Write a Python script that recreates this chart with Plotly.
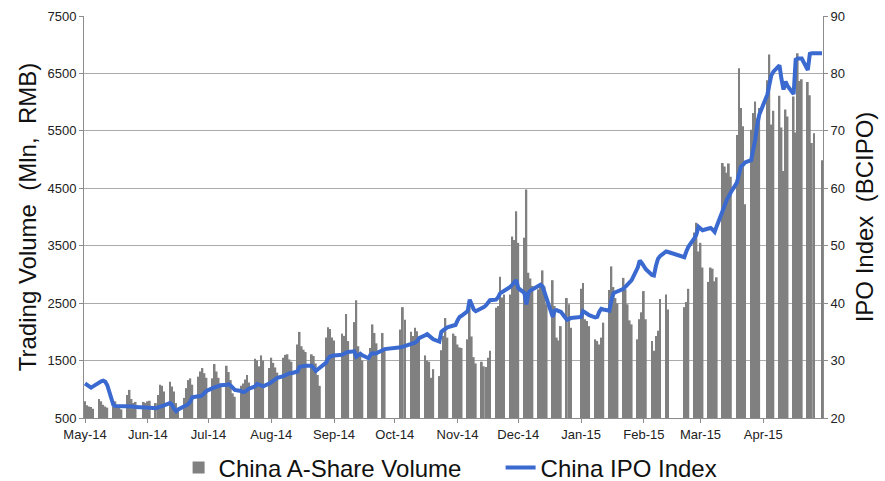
import pandas as pd
import plotly.graph_objects as go

# Exchange holidays (weekdays) inside the plotted period
holidays = [
    "2014-06-02", "2014-09-08",
    "2014-10-01", "2014-10-02", "2014-10-03", "2014-10-06", "2014-10-07",
    "2015-01-01", "2015-01-02",
    "2015-02-18", "2015-02-19", "2015-02-20", "2015-02-23", "2015-02-24",
    "2015-04-06", "2015-05-01",
]
first_day, last_day = "2014-05-05", "2015-05-04"

# Daily A-share turnover (Mln RMB), one row per trading week
volume = [
    790, 720, 700, 690, 660,
    830, 790, 730, 700, 680,
    700, 790, 720, 690, 650,
    900, 990, 830, 760, 780,
    780, 760, 790, 800,
    760, 900, 1080, 1060, 960,
    1130, 1050, 960, 760, 650,
    850, 1020, 1160, 1190, 1080,
    1220, 1310, 1370, 1280, 1200,
    1190, 1440, 1310, 1200, 1100,
    1410, 1300, 1160, 930, 870,
    1060, 1100, 1170, 1250, 1120,
    1530, 1500, 1400, 1590, 1500,
    1370, 1550, 1460, 1380, 1290,
    1550, 1600, 1610, 1520, 1480,
    1780, 2000, 1750, 1690, 1650,
    1610, 1580, 1450, 1250, 1060,
    1900, 2080, 2050, 1900, 1850,
    1970, 1930, 2310, 1840,
    2170, 2550, 1750, 1620, 1500,
    1500, 1720, 2130, 1980, 1800,
    1980, 1720,
    2040, 2430, 2210,
    2000, 1930, 2070, 2010, 1900,
    1590, 1500, 1480, 1200, 1350,
    1230, 1680, 1930, 2240, 1900,
    1970, 1930, 1780, 1730, 1720,
    1870, 2420, 1920, 1560, 1450,
    1480, 1400, 1390, 1550, 1670,
    2420, 2450, 2960, 2600, 2650,
    2650, 3660, 3600, 4100, 3550,
    3640, 4480, 3030, 2930, 2800,
    2740, 2820, 3070, 2790, 2480,
    2900, 2450, 1900, 1850, 2100,
    2590, 2480, 2070,
    2750, 2850, 2220, 2190, 2100,
    1870, 1840, 1780, 1900, 2160,
    2730, 3140, 2780, 2590, 2500,
    2940, 2740, 2480, 2200, 2130,
    1870, 2220, 2340, 2710, 2220,
    1840, 1670, 1930, 2020, 2570,
    2650, 2390,
    2430, 2520, 2750,
    3730, 3900, 3400, 3550, 3120,
    2870, 3120, 3100, 2880, 2950,
    4940, 4880, 4770, 4930, 4700,
    5430, 6590, 5900, 5580, 4220,
    5520, 5810, 6010, 5720, 5900,
    6380, 6830, 5610, 5850,
    6110, 5560, 4800, 5870, 5750,
    6100, 5470, 6850, 6370, 6400,
    6350, 6120, 5290, 5460,
    4990,
]

# China IPO Index (BCIPO) closing level, same trading days
ipo_index = [
    26.0, 25.8, 25.6, 25.3, 25.5,
    26.3, 26.4, 26.5, 26.3, 25.7,
    22.3, 22.1, 22.1, 22.1, 22.1,
    22.1, 22.0, 22.1, 22.0, 21.9,
    21.9, 21.9, 21.8, 21.8,
    21.7, 21.8, 21.9, 22.0, 22.2,
    22.6, 22.3, 21.6, 21.2, 21.5,
    22.1, 22.3, 22.4, 22.9, 23.6,
    23.8, 23.8, 24.0, 24.3, 24.7,
    25.2, 25.3, 25.4, 25.6, 25.7,
    25.8, 25.9, 25.6, 25.2, 24.9,
    24.7, 24.5, 24.6, 24.9, 25.1,
    25.5, 25.9, 25.8, 25.6, 25.5,
    26.0, 26.3, 26.6, 26.8, 27.0,
    27.3, 27.5, 27.7, 27.8, 27.8,
    28.1, 28.9, 29.0, 29.0, 29.1,
    29.1, 28.5, 28.2, 28.5, 28.8,
    29.6, 30.3, 30.7, 30.8, 30.9,
    31.0, 31.3, 31.4, 31.5,
    31.6, 30.7, 31.0, 31.2, 30.9,
    30.4, 31.0, 31.3, 31.2, 31.3,
    31.8, 32.0,
    32.3, 32.4, 32.5,
    32.8, 33.0, 33.1, 33.4, 33.9,
    34.4, 34.6, 34.3, 33.9, 33.7,
    33.3, 35.0, 35.3, 35.6, 35.8,
    36.1, 36.2, 37.0, 37.6, 37.8,
    38.6, 40.6, 39.8, 38.9, 38.6,
    39.0, 39.3, 39.6, 40.0, 40.5,
    40.6, 41.0, 41.7, 41.9, 42.0,
    42.8, 43.2, 43.6, 44.0, 42.6,
    41.8, 39.8, 41.8, 42.2, 42.4,
    43.0, 43.2, 42.9, 41.8, 40.6,
    37.6, 38.7, 38.8, 38.6, 38.5,
    37.1, 37.2, 37.4,
    37.6, 38.6, 38.4, 38.1, 37.9,
    37.5, 37.6, 38.5, 39.0, 38.9,
    38.7, 40.5, 41.7, 41.9, 42.1,
    42.5, 42.9, 43.2, 43.6, 44.0,
    46.2, 47.4, 47.0, 46.5, 45.9,
    44.9, 44.8, 46.5, 47.7, 48.2,
    49.0, 48.9,
    48.0, 49.0, 49.8,
    51.3, 52.0, 53.3, 53.0, 52.7,
    53.0, 53.1, 52.8, 52.4, 53.4,
    56.4, 57.3, 58.0, 58.6, 59.3,
    61.0, 62.8, 63.8, 64.1, 64.5,
    64.9, 66.5, 68.4, 71.0, 72.8,
    76.3, 78.0, 79.7, 80.3,
    81.4, 79.0, 77.2, 78.6, 77.8,
    76.4, 82.4, 82.6, 82.6, 82.6,
    80.6, 83.4, 83.5, 83.5,
    83.5,
]

trading_days = pd.bdate_range(first_day, last_day)
trading_days = trading_days[~trading_days.isin(pd.to_datetime(holidays))]
assert len(trading_days) == len(volume) == len(ipo_index)

FONT = "Liberation Sans, Arial, sans-serif"
GRID = "#ABABAB"
AXIS = "#8C8C8C"

fig = go.Figure()
fig.add_trace(go.Bar(
    x=trading_days, y=volume, name="China A-Share Volume",
    marker=dict(color="#808080", line=dict(width=0)),
))
fig.add_trace(go.Scatter(
    x=trading_days, y=ipo_index, name="China IPO Index", yaxis="y2",
    mode="lines", line=dict(color="#3A69CF", width=4),
))

fig.update_layout(
    width=885, height=481,
    margin=dict(l=84, r=62, t=16, b=63, autoexpand=False),
    paper_bgcolor="white", plot_bgcolor="white",
    font=dict(family=FONT, size=13, color="#222222"),
    bargap=0.12,
    showlegend=True,
    legend=dict(
        orientation="h", x=0.128, xanchor="left", y=-0.124, yanchor="middle",
        font=dict(size=24, color="#111111"), itemwidth=30,
        entrywidth=277, entrywidthmode="pixels",
        bgcolor="rgba(0,0,0,0)",
    ),
    xaxis=dict(
        type="date",
        range=["2014-05-04 12:00", "2015-05-04 12:00"],
        tick0="2014-05-05", dtick="M1", tickformat="%b-%y",
        showgrid=False, showline=True, linecolor=AXIS, linewidth=1,
        ticks="outside", ticklen=4, tickcolor=AXIS,
        tickfont=dict(size=13, color="#222222"),
        zeroline=False,
    ),
    yaxis=dict(
        range=[500, 7500], tick0=500, dtick=1000,
        showgrid=True, gridcolor=GRID, gridwidth=1,
        showline=True, linecolor=AXIS, linewidth=1,
        ticks="outside", ticklen=4, tickcolor=AXIS,
        tickfont=dict(size=13, color="#222222"),
        title=dict(text="Trading Volume\u00a0\u00a0(Mln,\u00a0\u00a0RMB)",
                   font=dict(size=24, color="#111111"), standoff=4),
        zeroline=False,
    ),
    yaxis2=dict(
        overlaying="y", side="right",
        range=[20, 90], tick0=20, dtick=10,
        showgrid=False, showline=True, linecolor=AXIS, linewidth=1,
        ticks="outside", ticklen=4, tickcolor=AXIS,
        tickfont=dict(size=13, color="#222222"),
        title=dict(text="IPO Index  (BCIPO)",
                   font=dict(size=24, color="#111111"), standoff=12),
        zeroline=False,
    ),
)

fig.write_html("out.html")
